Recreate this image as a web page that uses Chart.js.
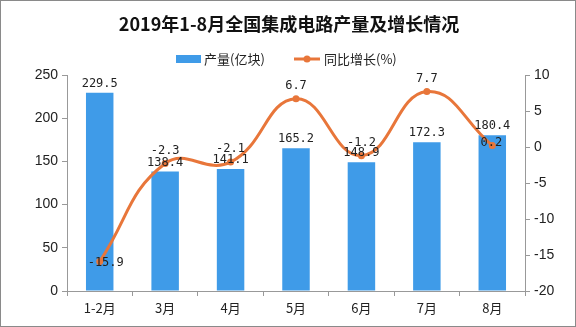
<!DOCTYPE html>
<html>
<head>
<meta charset="utf-8">
<script src="https://cdn.jsdelivr.net/npm/chart.js@4"></script>
<style>
  html, body { margin: 0; padding: 0; background: #fff; }
  #wrap { width: 576px; height: 327px; }
</style>
</head>
<body>
<div id="wrap"><canvas id="c" width="576" height="327"></canvas></div>
<script>
// 2019年1-8月全国集成电路产量及增长情况
const TITLE = '2019年1-8月全国集成电路产量及增长情况';
const months = ['1-2月', '3月', '4月', '5月', '6月', '7月', '8月'];
const output = [229.5, 138.4, 141.1, 165.2, 148.9, 172.3, 180.4];   // 产量(亿块)
const growth = [-15.9, -2.3, -2.1, 6.7, -1.2, 7.7, 0.2];              // 同比增长(%)
const leftTicks  = [0, 50, 100, 150, 200, 250];
const rightTicks = [-20, -15, -10, -5, 0, 5, 10];

const BAR_C  = '#3f9be8';
const LINE_C = '#e8763a';
const TXT    = '#222';
const LBL_FONT = '12px "DejaVu Sans Mono", "Liberation Mono", monospace';
const CJK = '"Noto Sans CJK SC", "Noto Sans", sans-serif';

// 标签: 柱顶数值 + 折线点数值 (1-2月 和 8月 的增长率标签压在点上)
// dataset 0 = 折线, dataset 1 = 柱
const labelPlugin = {
  id: 'labels',
  afterDatasetsDraw(chart) {
    const ctx = chart.ctx;
    ctx.save();
    ctx.font = LBL_FONT;
    ctx.fillStyle = TXT;
    ctx.textAlign = 'center';
    ctx.textBaseline = 'middle';
    chart.getDatasetMeta(1).data.forEach((b, i) => {
      ctx.fillText(output[i].toFixed(1), b.x, b.y - 9);
    });
    chart.getDatasetMeta(0).data.forEach((p, i) => {
      let dx = 0, dy = -13;
      if (i === 0) { dx = 6; dy = 1; }
      if (i === 6) { dx = -1; dy = -3; }
      ctx.fillText(growth[i].toFixed(1), p.x + dx, p.y + dy);
    });
    ctx.restore();
  },
  afterDraw(chart) {
    const ctx = chart.ctx;
    ctx.save();
    // 标题
    ctx.fillStyle = '#111';
    ctx.font = 'bold 18px ' + CJK;
    ctx.textAlign = 'center';
    ctx.textBaseline = 'middle';
    ctx.fillText(TITLE, 289, 24);
    // 图例
    ctx.font = '13px ' + CJK;
    ctx.textAlign = 'left';
    ctx.fillStyle = BAR_C;
    ctx.fillRect(176, 55, 25, 8);
    ctx.fillStyle = TXT;
    ctx.fillText('产量(亿块)', 204, 59);
    ctx.strokeStyle = LINE_C;
    ctx.lineWidth = 3;
    ctx.beginPath(); ctx.moveTo(294, 59); ctx.lineTo(320, 59); ctx.stroke();
    ctx.fillStyle = LINE_C;
    ctx.beginPath(); ctx.arc(307, 59, 3.5, 0, Math.PI * 2); ctx.fill();
    ctx.fillStyle = TXT;
    ctx.fillText('同比增长(%)', 324, 59);
    // 外框
    ctx.strokeStyle = '#8a8a8a';
    ctx.lineWidth = 1;
    ctx.strokeRect(0.5, 0.5, 575, 326);
    ctx.restore();
  }
};

new Chart(document.getElementById('c').getContext('2d'), {
  data: {
    labels: months,
    datasets: [
      {
        type: 'line',
        label: '同比增长(%)',
        data: growth,
        yAxisID: 'y1',
        borderColor: LINE_C,
        backgroundColor: LINE_C,
        borderWidth: 3,
        pointRadius: 3.5,
        pointBackgroundColor: LINE_C,
        pointBorderWidth: 0,
        tension: 0.45,
        order: 0,
      },
      {
        type: 'bar',
        label: '产量(亿块)',
        data: output,
        yAxisID: 'y',
        backgroundColor: BAR_C,
        barPercentage: 0.42,
        categoryPercentage: 1,
        order: 1,
      },
    ],
  },
  options: {
    responsive: false,
    animation: false,
    devicePixelRatio: 1,
    layout: { padding: { top: 75, right: 0, left: 0, bottom: 0 } },
    plugins: { legend: { display: false }, title: { display: false }, tooltip: { enabled: false } },
    scales: {
      x: {
        offset: true,
        afterFit: s => { s.height = 36; },
        grid: { display: true, drawOnChartArea: false, offset: true, tickLength: 5, color: '#999' },
        border: { color: '#999' },
        ticks: { color: TXT, padding: 4, font: { size: 13, family: CJK } },
      },
      y: {
        position: 'left',
        min: 0, max: 250,
        afterFit: s => { s.width = 67; },
        afterBuildTicks: s => { s.ticks = leftTicks.map(v => ({ value: v })); },
        grid: { display: true, drawOnChartArea: false, tickLength: 5, color: '#999' },
        border: { color: '#999' },
        ticks: { color: TXT, padding: 4, font: { size: 14, family: '"Liberation Sans", sans-serif' } },
      },
      y1: {
        position: 'right',
        min: -20, max: 10,
        afterFit: s => { s.width = 51; },
        afterBuildTicks: s => { s.ticks = rightTicks.map(v => ({ value: v })); },
        grid: { display: true, drawOnChartArea: false, tickLength: 5, color: '#999' },
        border: { color: '#999' },
        ticks: { color: TXT, padding: 4, font: { size: 14, family: '"Liberation Sans", sans-serif' } },
      },
    },
  },
  plugins: [labelPlugin],
});
</script>
</body>
</html>
